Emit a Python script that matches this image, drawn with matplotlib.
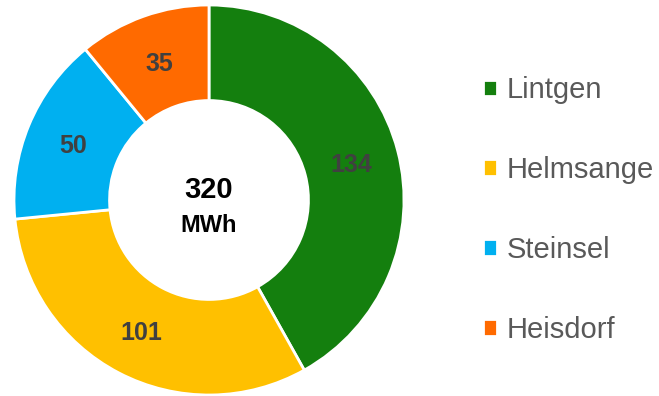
import matplotlib
matplotlib.use('Agg')
import matplotlib.pyplot as plt

# Daten
standorte = ['Lintgen', 'Helmsange', 'Steinsel', 'Heisdorf']
werte = [134, 101, 50, 35]
farben = ['#147f0e', '#ffc000', '#00b0f0', '#ff6a00']
einheit = 'MWh'

plt.rcParams['font.family'] = ['Liberation Sans', 'DejaVu Sans']

fig = plt.figure(figsize=(6.59, 3.96), dpi=100, facecolor='white')
ax = fig.add_axes([0, 0, 1, 1])

R = 195
cx, cy = 209, 196
wedges, texte = ax.pie(
    werte, colors=farben, startangle=90, counterclock=False,
    center=(cx, cy), radius=R,
    labels=[str(w) for w in werte], labeldistance=0.755,
    wedgeprops=dict(width=R * 0.49, edgecolor='white', linewidth=2),
    textprops=dict(fontsize=18, fontweight='bold', color='#404040'),
)
for t in texte:
    t.set_ha('center')
    t.set_va('center_baseline')

ax.set_xlim(0, 659)
ax.set_ylim(0, 396)
ax.set_aspect('equal')
ax.axis('off')

ax.text(cx, cy + 10, str(sum(werte)), ha='center', va='center',
        fontsize=21, fontweight='bold', color='black')
ax.text(cx, cy - 26, einheit, ha='center', va='center',
        fontsize=17, fontweight='bold', color='black')

leg = ax.legend(wedges, standorte, loc='center left', bbox_to_anchor=(0.693, 0.47),
                frameon=False, fontsize=21, labelspacing=1.78,
                handlelength=0.48, handleheight=0.48, handletextpad=0.34,
                labelcolor='#595959')

fig.savefig('out.png', dpi=100, facecolor='white')
